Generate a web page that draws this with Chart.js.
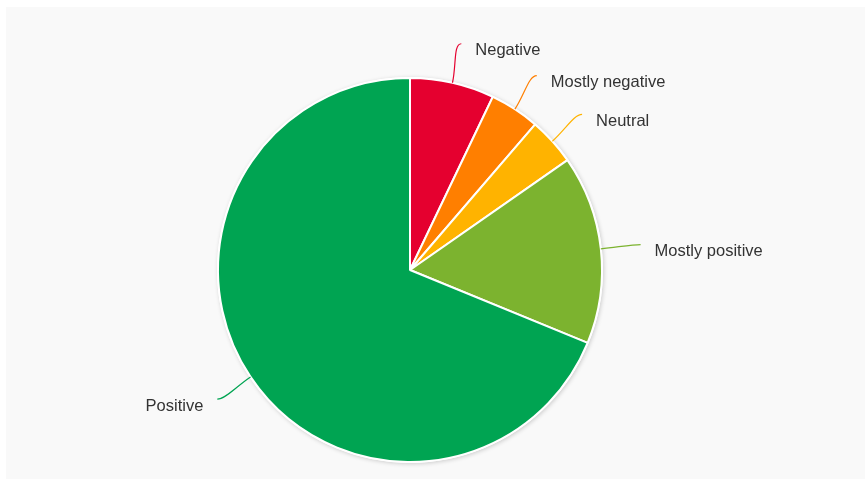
<!DOCTYPE html>
<html>
<head>
<meta charset="utf-8">
<script src="https://cdn.jsdelivr.net/npm/chart.js@4"></script>
<style>
  html, body { margin: 0; padding: 0; background: #fff; }
  #wrap { position: relative; width: 865px; height: 479px; }
</style>
</head>
<body>
<div id="wrap"><canvas id="sentiment-chart" width="865" height="479"></canvas></div>
<script>
// Review sentiment share (percent)
const categories = ['Negative', 'Mostly negative', 'Neutral', 'Mostly positive', 'Positive'];
const shares = [7.1, 4.2, 4.0, 15.9, 68.8];
const sliceColors = ['#e5002f', '#ff7f00', '#ffb300', '#7cb32f', '#00a452'];

// gray panel behind the chart + soft shadow under the pie
const panelPlugin = {
    id: 'panel',
    beforeDraw(chart) {
        const c = chart.ctx;
        c.save();
        c.fillStyle = '#f9f9f9';
        c.fillRect(6, 7, chart.width - 6, chart.height - 7);
        c.restore();
    },
    beforeDatasetsDraw(chart) {
        const arc = chart.getDatasetMeta(0).data[0];
        if (!arc) return;
        const c = chart.ctx;
        c.save();
        c.shadowColor = 'rgba(0,0,0,0.18)';
        c.shadowBlur = 4;
        c.shadowOffsetX = 1;
        c.shadowOffsetY = 1;
        c.fillStyle = '#fff';
        c.beginPath();
        c.arc(arc.x, arc.y, arc.outerRadius + 1, 0, Math.PI * 2);
        c.fill();
        c.restore();
    }
};

// outside labels with soft curved connectors
const outLabels = {
    id: 'outLabels',
    afterDatasetsDraw(chart) {
        const meta = chart.getDatasetMeta(0);
        const c = chart.ctx;
        c.save();
        c.font = '16.5px "Liberation Sans", Arial, sans-serif';
        c.textBaseline = 'middle';
        meta.data.forEach(function(arc, i) {
            const mid = (arc.startAngle + arc.endAngle) / 2;
            const cos = Math.cos(mid), sin = Math.sin(mid);
            const r = arc.outerRadius;
            const side = cos >= 0 ? 1 : -1;
            const sx = arc.x + r * cos, sy = arc.y + r * sin;
            const ex = arc.x + (r + 40) * cos, ey = arc.y + (r + 40) * sin;
            c.strokeStyle = sliceColors[i];
            c.lineWidth = 1.2;
            c.beginPath();
            c.moveTo(sx, sy);
            c.bezierCurveTo(sx + 18 * cos, sy + 18 * sin, ex - side * 8, ey, ex, ey);
            c.stroke();
            c.fillStyle = '#333333';
            c.textAlign = side > 0 ? 'left' : 'right';
            c.fillText(categories[i], ex + side * 14, ey + 7);
        });
        c.restore();
    }
};

const ctx = document.getElementById('sentiment-chart').getContext('2d');
new Chart(ctx, {
    type: 'pie',
    data: {
        labels: categories,
        datasets: [{
            data: shares,
            backgroundColor: sliceColors,
            borderColor: '#ffffff',
            borderWidth: 2
        }]
    },
    options: {
        responsive: false,
        animation: false,
        radius: 192,
        layout: { padding: { left: 20, right: 65, top: 70, bottom: 9 } },
        plugins: {
            legend: { display: false },
            tooltip: { enabled: false }
        }
    },
    plugins: [panelPlugin, outLabels]
});
</script>
</body>
</html>
